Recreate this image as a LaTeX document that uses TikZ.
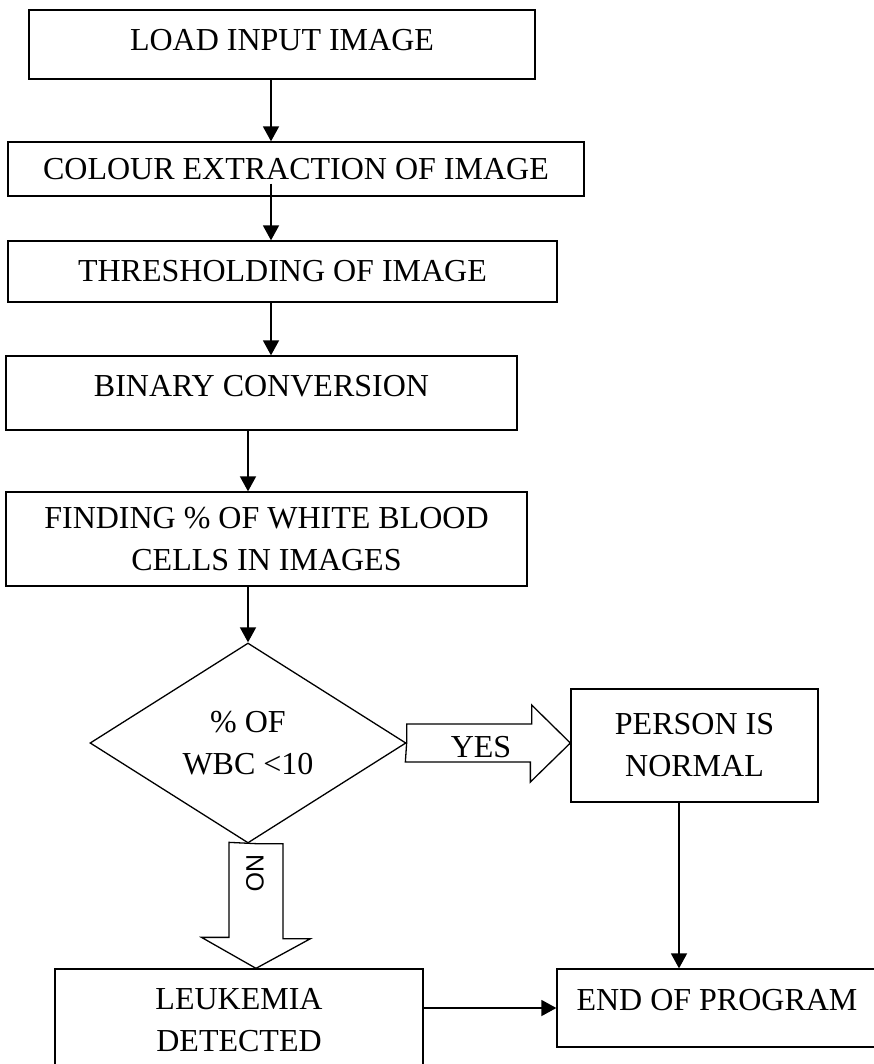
\documentclass[tikz,border=0pt]{standalone}
\usepackage{fontspec}
\setmainfont{Liberation Serif}
\newfontfamily\labelsans{Liberation Sans}
\usetikzlibrary{shapes.geometric,arrows.meta,calc}

\tikzset{
  procbox/.style={draw, rectangle, align=center, inner sep=0pt, line width=1.3pt},
  decision/.style={draw, diamond, align=center, inner sep=0pt, line width=1.3pt},
  flow/.style={-{Triangle[length=15pt,width=16pt]}, line width=1.7pt},
  blockarrow/.style={draw, line width=1.3pt, line join=miter},
}

\begin{document}
\begin{tikzpicture}[x=1pt, y=-1pt, font=\fontsize{32}{42}\selectfont]
  \useasboundingbox (0,0) rectangle (874,1064);
  \clip (0,0) rectangle (874,1064);

  % Processing steps (left column)
  \node[procbox, minimum width=506pt, minimum height=69pt, text depth=9pt]
    (load) at (282,44.5) {LOAD INPUT IMAGE};
  \node[procbox, minimum width=576pt, minimum height=54pt]
    (colour) at (296,169) {COLOUR EXTRACTION OF IMAGE};
  \node[procbox, minimum width=549pt, minimum height=61pt]
    (thresh) at (282.5,271.5) {THRESHOLDING OF IMAGE};
  \node[procbox, minimum width=511pt, minimum height=74pt, text depth=14pt]
    (binary) at (261.5,393) {BINARY CONVERSION};
  \node[procbox, minimum width=521pt, minimum height=94pt]
    (finding) at (266.5,539) {FINDING \% OF WHITE BLOOD\\CELLS IN IMAGES};

  % Decision and outcomes
  \node[decision, minimum width=316pt, minimum height=200pt]
    (cond) at (248,743) {\% OF\\WBC <10};
  \node[procbox, minimum width=247pt, minimum height=113pt]
    (person) at (694.5,745.5) {PERSON IS\\NORMAL};
  \node[procbox, minimum width=368pt, minimum height=102pt]
    (leuk) at (239,1020) {LEUKEMIA\\DETECTED};
  \node[procbox, minimum width=320pt, minimum height=78pt, text depth=16pt]
    (stop) at (717,1008) {END OF PROGRAM};

  % Flow arrows
  \coordinate (spine) at (271,0);
  \coordinate (drop) at (679,0);
  \draw[flow] (load.south -| spine) -- (colour.north -| spine);
  \draw[flow] ([yshift=13pt]colour.south -| spine) -- (thresh.north -| spine);
  \draw[flow] (thresh.south -| spine) -- (binary.north -| spine);
  \draw[flow] (binary.south -| cond.north) -- (finding.north -| cond.north);
  \draw[flow] (finding.south -| cond.north) -- (cond.north);
  \draw[flow] (person.south -| drop) -- (stop.north -| drop);
  \draw[flow] (leuk.east |- stop.west) -- (stop.west);

  % Block arrow YES
  \draw[blockarrow] (cond.east) -- ++(0,-19) -- ++(125,0) -- ++(0,-19)
    -- (cond.east -| person.west) -- ++(-40,39) -- ++(0,-20) -- ++(-125,0) -- cycle;
  \node (yes) at (481,747) {YES};

  % Block arrow NO
  \coordinate (notail) at ([xshift=8pt]cond.south);
  \draw[blockarrow] (notail) -- ++(27,0) -- ++(0,95) -- ++(27.5,0)
    -- (notail |- leuk.north) -- ++(-54.5,-31) -- ++(27.5,0) -- ++(0,-95) -- cycle;
  \node[rotate=-90, font=\labelsans\fontsize{25}{30}\selectfont] (no) at (255,873) {NO};
\end{tikzpicture}
\end{document}
